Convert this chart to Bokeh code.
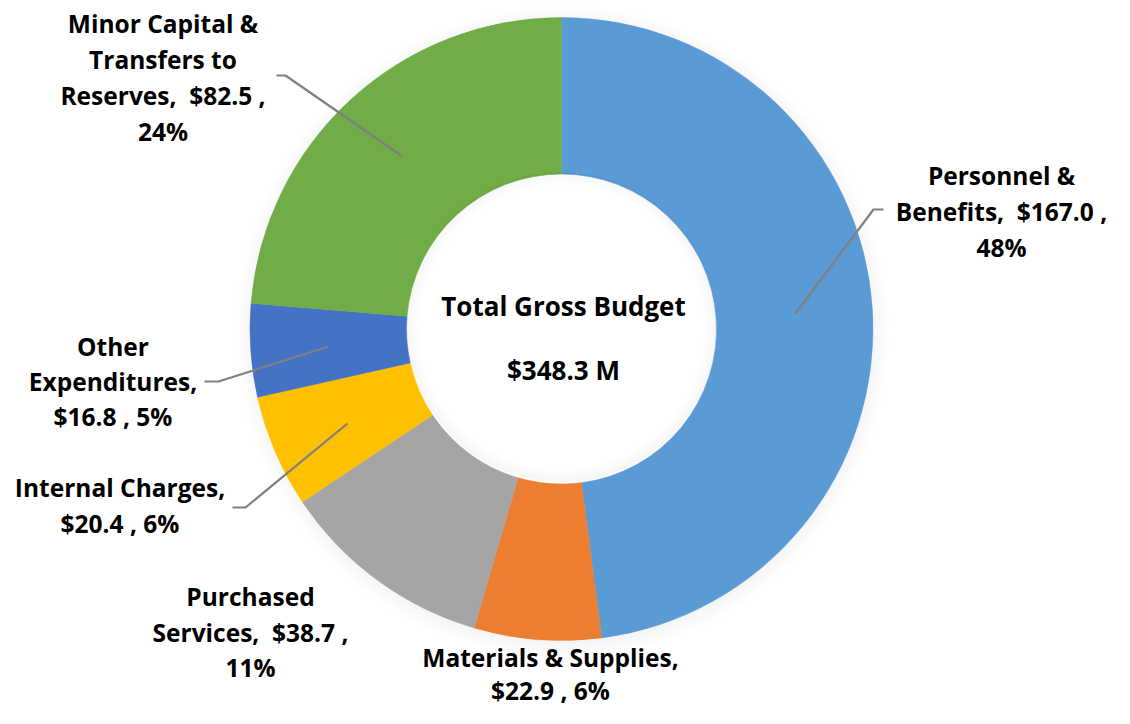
import math
from bokeh.plotting import figure
from bokeh.models import Range1d, ColumnDataSource
from bokeh.embed import file_html
from bokeh.resources import INLINE
from bokeh.core.properties import value

# ---------------- data ----------------
categories = ["Personnel & Benefits", "Materials & Supplies", "Purchased Services",
              "Internal Charges", "Other Expenditures", "Minor Capital & Transfers to Reserves"]
amounts = [167.0, 22.9, 38.7, 20.4, 16.8, 82.5]
percents = [48, 6, 11, 6, 5, 24]
colors = ["#5B9BD5", "#ED7D31", "#A5A5A5", "#FFC000", "#4472C4", "#70AD47"]
NB = "\u00a0"
label_lines = [
    ["Personnel &", "Benefits," + NB + " $167.0 ,", "48%"],
    ["Materials & Supplies,", "$22.9 , 6%"],
    ["Purchased", "Services," + NB + " $38.7 ,", "11%"],
    ["Internal Charges,", "$20.4 , 6%"],
    ["Other", "Expenditures,", "$16.8 , 5%"],
    ["Minor Capital &", "Transfers to", "Reserves," + NB + " $82.5 ,", "24%"],
]
center_title = "Total Gross Budget"
center_total = "$348.3 M"

# ---------------- layout (screen pixel coordinates) ----------------
W, H = 1114, 708
def Y(sy):
    return H - sy

CX, CY = 561, 328.5
R_OUT, R_IN = 311.5, 155
FONT = value("Open Sans")
FSIZE = "24.5px"
BASE_OFF = -0.8   # baseline offset from cap middle (empirical)

label_pos = [(1001, 175.5), (550, 658), (250, 597), (119.5, 488), (112.5, 347), (162.5, 23.5)]
label_gap = [36, 32.5, 35.5, 36, 35, 36]
leaders = [
    [(795, 313), (873, 209), (883, 209)],
    None,
    None,
    [(347, 423), (245, 507), (232, 507)],
    [(328, 346), (218, 381), (204, 381)],
    [(402, 156), (285, 75), (276, 75)],
]

p = figure(width=W, height=H, x_range=Range1d(0, W), y_range=Range1d(0, H),
           output_backend="svg", toolbar_location=None, min_border=0)
p.axis.visible = False
p.grid.visible = False
p.outline_line_color = None
p.background_fill_color = "white"
p.border_fill_color = "white"

# soft outer shadow
n = 14
for i in range(n):
    p.annulus(x=CX + 1, y=Y(CY + 3), inner_radius=R_OUT - 4 + i * 1.4, outer_radius=R_OUT - 4 + (i + 1) * 1.4,
              fill_color="black", fill_alpha=0.045 * (1 - i / n), line_color=None)

# donut
total = sum(amounts)
starts, ends = [], []
cum = 0.0
for a in amounts:
    starts.append(math.pi / 2 - 2 * math.pi * cum / total)
    cum += a
    ends.append(math.pi / 2 - 2 * math.pi * cum / total)
src = ColumnDataSource(dict(start=starts, end=ends, color=colors, cat=categories))
p.annular_wedge(x=CX, y=Y(CY), inner_radius=R_IN, outer_radius=R_OUT, start_angle="start",
                end_angle="end", direction="clock", fill_color="color", line_color="color",
                line_width=0.5, source=src)

# inner hole shadow
m = 10
for i in range(m):
    p.annulus(x=CX, y=Y(CY - 2), inner_radius=R_IN - (i + 1) * 1.3, outer_radius=R_IN - i * 1.3,
              fill_color="black", fill_alpha=0.04 * (1 - i / m), line_color=None)

# leader lines
xs, ys = [], []
for ld in leaders:
    if ld:
        xs.append([pt[0] for pt in ld])
        ys.append([Y(pt[1]) for pt in ld])
p.multi_line(xs=xs, ys=ys, line_color="#808080", line_width=2.2)

# labels
tx, ty, tt = [], [], []
for (lx, ly), gap, lines in zip(label_pos, label_gap, label_lines):
    for k, s in enumerate(lines):
        tx.append(lx)
        ty.append(Y(ly + k * gap + BASE_OFF))
        tt.append(s)
p.text(x=tx, y=ty, text=tt, text_align="center", text_baseline="alphabetic",
       text_font=FONT, text_font_style="bold", text_font_size=FSIZE, text_color="black")

p.text(x=[563, 563], y=[Y(306 - 0.5), Y(370 - 0.5)], text=[center_title, center_total],
       text_align="center", text_baseline="alphabetic", text_font=FONT, text_font_style="bold",
       text_font_size="26px", text_color="black")

open("out.html", "w").write(file_html(p, INLINE))
